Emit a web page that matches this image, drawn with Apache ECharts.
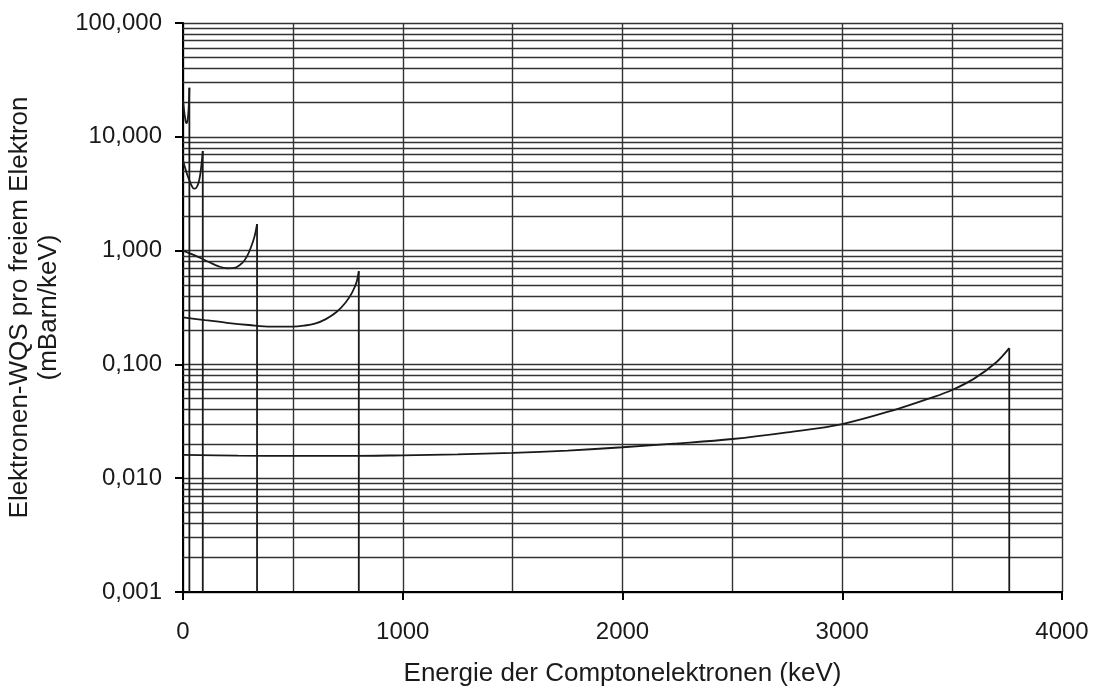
<!DOCTYPE html>
<html>
<head>
<meta charset="utf-8">
<script src="https://cdn.jsdelivr.net/npm/echarts@6/dist/echarts.min.js"></script>
<style>
  html, body { margin: 0; padding: 0; background: #fff; }
  #chart { width: 1098px; height: 688px; }
</style>
</head>
<body>
<div id="chart"></div>
<script>
// Compton electron spectra: cross section per free electron (mBarn/keV)
// versus electron energy (keV), one curve per photon energy.
const xTitle = 'Energie der Comptonelektronen (keV)';
const yTitle = 'Elektronen-WQS pro freiem Elektron\n(mBarn/keV)';

// Decade tick values of the logarithmic axis
const yTicks = [0.001, 0.01, 0.1, 1, 10, 100];

// Curve 1 (edge near 29 keV)
const e1 = [0, 5, 10, 15, 20, 24, 27, 29];
const s1 = [21, 17, 14.5, 13.2, 13.6, 16, 20, 27];

// Curve 2 (edge near 90 keV)
const e2 = [0, 10, 20, 30, 40, 50, 60, 70, 78, 85, 90];
const s2 = [6.2, 5.3, 4.6, 4.1, 3.7, 3.5, 3.55, 3.9, 4.6, 5.9, 7.5];

// Curve 3 (edge near 337 keV)
const e3 = [0, 40, 80, 120, 160, 200, 240, 270, 290, 310, 325, 337];
const s3 = [1.0, 0.93, 0.86, 0.79, 0.73, 0.70, 0.71, 0.78, 0.88, 1.08, 1.32, 1.71];

// Curve 4 (edge near 800 keV)
const e4 = [0, 100, 200, 300, 400, 500, 550, 600, 650, 700, 740, 770, 790, 800];
const s4 = [0.259, 0.245, 0.232, 0.222, 0.215, 0.215, 0.219, 0.228, 0.250, 0.290, 0.350, 0.430, 0.530, 0.66];

// Curve 5 (edge near 3760 keV)
const e5 = [0, 250, 500, 750, 1000, 1250, 1500, 1750, 2000, 2250, 2500, 2750, 3000, 3250, 3400, 3500, 3600, 3700, 3760];
const s5 = [0.0160, 0.0158, 0.0157, 0.0157, 0.0159, 0.0162, 0.0167, 0.0175, 0.0187, 0.0202, 0.0221, 0.0253, 0.0299, 0.0405, 0.0505, 0.0596, 0.075, 0.104, 0.139];

const curves = [[e1, s1], [e2, s2], [e3, s3], [e4, s4], [e5, s5]];

const pairs = (xs, ys) => xs.map((x, i) => [x, ys[i]]);

// Minor grid values 2..9 within each decade
const minorGrid = [];
for (let k = 0; k < yTicks.length - 1; k++) {
  for (let m = 2; m <= 9; m++) minorGrid.push(+(m * yTicks[k]).toPrecision(3));
}

const ink = '#1a1a1a';
const gridColor = '#333';
const gridWidth = 1.4;
const fontFamily = '"Liberation Sans", Arial, Helvetica, sans-serif';

const lineSeries = (data, smooth) => ({
  type: 'line',
  data: data,
  smooth: smooth,
  showSymbol: false,
  symbol: 'none',
  lineStyle: { color: ink, width: 1.8 },
  silent: true,
  animation: false,
  z: 5
});

const series = [
  {
    type: 'line',
    data: [],
    silent: true,
    markLine: {
      silent: true,
      precision: 6,
      symbol: ['none', 'none'],
      label: { show: false },
      animation: false,
      lineStyle: { color: gridColor, width: gridWidth, type: 'solid' },
      data: minorGrid.map((v) => ({ yAxis: v }))
    }
  }
];
curves.forEach(([xs, ys]) => {
  // spectrum up to the Compton edge
  series.push(lineSeries(pairs(xs, ys), 0.35));
  // vertical drop at the edge down to the axis floor
  const last = xs.length - 1;
  series.push(lineSeries([[xs[last], ys[last]], [xs[last], yTicks[0]]], false));
});

const chart = echarts.init(document.getElementById('chart'), null, { renderer: 'canvas' });
chart.setOption({
  backgroundColor: '#fff',
  animation: false,
  grid: { left: 183, right: 36, top: 23, bottom: 96, containLabel: false, outerBoundsMode: 'none' },
  xAxis: {
    type: 'value',
    min: 0,
    max: 4000,
    interval: 1000,
    name: xTitle,
    nameLocation: 'middle',
    nameGap: 69,
    nameTextStyle: { fontFamily, fontSize: 26, color: ink },
    axisLine: { lineStyle: { color: '#000', width: 2 } },
    axisTick: { show: true, length: 8, lineStyle: { color: '#000', width: 2 } },
    axisLabel: { fontFamily, fontSize: 24, color: ink, margin: 28, formatter: (v) => String(v) },
    splitLine: { show: true, lineStyle: { color: gridColor, width: gridWidth } },
    minorTick: { show: false, splitNumber: 2 },
    minorSplitLine: { show: true, lineStyle: { color: gridColor, width: gridWidth } }
  },
  yAxis: {
    type: 'log',
    logBase: 10,
    min: yTicks[0],
    max: yTicks[yTicks.length - 1],
    name: yTitle,
    nameLocation: 'middle',
    nameRotate: 90,
    nameGap: 120,
    nameTextStyle: { fontFamily, fontSize: 26, color: ink, lineHeight: 29, align: 'center' },
    axisLine: { show: true, lineStyle: { color: '#000', width: 2 } },
    axisTick: { show: true, length: 8, lineStyle: { color: '#000', width: 2 } },
    axisLabel: {
      fontFamily, fontSize: 24, color: ink, margin: 21,
      formatter: (v) => Number(v).toFixed(3).replace('.', ',')
    },
    splitLine: { show: true, lineStyle: { color: gridColor, width: gridWidth } }
  },
  series: series
});
</script>
</body>
</html>
